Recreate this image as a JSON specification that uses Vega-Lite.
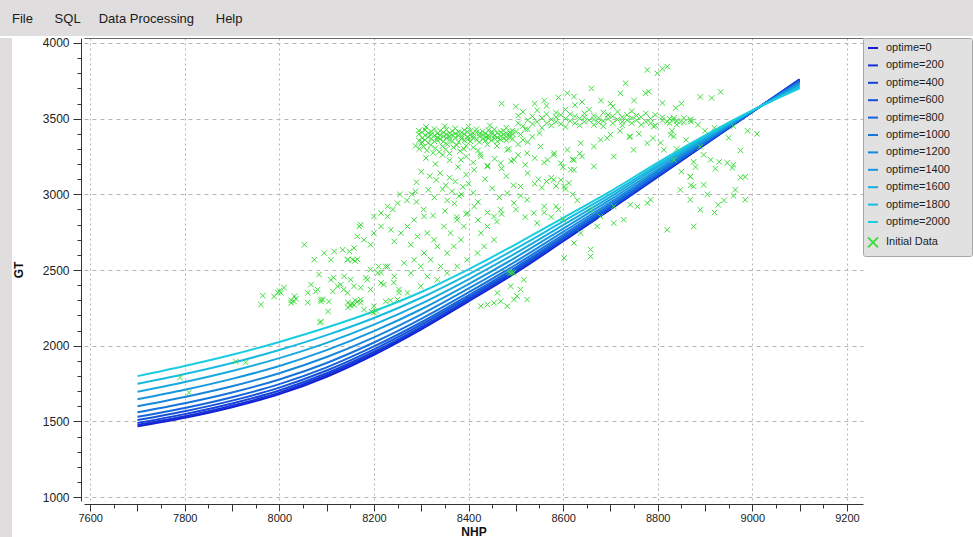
{
"$schema": "https://vega.github.io/schema/vega-lite/v6.json",
"padding": 0,
"background": "white",
"config": {"view": {"stroke": null}, "concat": {"spacing": 0}, "font": "Liberation Sans"},
"spacing": 0,
"resolve": {"legend": {"color": "independent", "shape": "independent"}},
"datasets": {
"curves": [
{"series":"optime=0","NHP":7700,"GT":1467},{"series":"optime=0","NHP":7800,"GT":1524},{"series":"optime=0","NHP":7900,"GT":1594},{"series":"optime=0","NHP":8000,"GT":1680},{"series":"optime=0","NHP":8100,"GT":1795},{"series":"optime=0","NHP":8200,"GT":1940},{"series":"optime=0","NHP":8300,"GT":2108},{"series":"optime=0","NHP":8400,"GT":2293},{"series":"optime=0","NHP":8500,"GT":2482},{"series":"optime=0","NHP":8600,"GT":2690},{"series":"optime=0","NHP":8700,"GT":2900},{"series":"optime=0","NHP":8800,"GT":3115},{"series":"optime=0","NHP":8900,"GT":3330},{"series":"optime=0","NHP":9000,"GT":3545},{"series":"optime=0","NHP":9100,"GT":3760},
{"series":"optime=200","NHP":7700,"GT":1477},{"series":"optime=200","NHP":7800,"GT":1534},{"series":"optime=200","NHP":7900,"GT":1604},{"series":"optime=200","NHP":8000,"GT":1690},{"series":"optime=200","NHP":8100,"GT":1805},{"series":"optime=200","NHP":8200,"GT":1949},{"series":"optime=200","NHP":8300,"GT":2115},{"series":"optime=200","NHP":8400,"GT":2299},{"series":"optime=200","NHP":8500,"GT":2488},{"series":"optime=200","NHP":8600,"GT":2695},{"series":"optime=200","NHP":8700,"GT":2904},{"series":"optime=200","NHP":8800,"GT":3118},{"series":"optime=200","NHP":8900,"GT":3332},{"series":"optime=200","NHP":9000,"GT":3545},{"series":"optime=200","NHP":9100,"GT":3758},
{"series":"optime=400","NHP":7700,"GT":1490},{"series":"optime=400","NHP":7800,"GT":1548},{"series":"optime=400","NHP":7900,"GT":1618},{"series":"optime=400","NHP":8000,"GT":1704},{"series":"optime=400","NHP":8100,"GT":1818},{"series":"optime=400","NHP":8200,"GT":1960},{"series":"optime=400","NHP":8300,"GT":2125},{"series":"optime=400","NHP":8400,"GT":2308},{"series":"optime=400","NHP":8500,"GT":2495},{"series":"optime=400","NHP":8600,"GT":2701},{"series":"optime=400","NHP":8700,"GT":2908},{"series":"optime=400","NHP":8800,"GT":3122},{"series":"optime=400","NHP":8900,"GT":3334},{"series":"optime=400","NHP":9000,"GT":3546},{"series":"optime=400","NHP":9100,"GT":3756},
{"series":"optime=600","NHP":7700,"GT":1509},{"series":"optime=600","NHP":7800,"GT":1567},{"series":"optime=600","NHP":7900,"GT":1637},{"series":"optime=600","NHP":8000,"GT":1723},{"series":"optime=600","NHP":8100,"GT":1836},{"series":"optime=600","NHP":8200,"GT":1976},{"series":"optime=600","NHP":8300,"GT":2139},{"series":"optime=600","NHP":8400,"GT":2320},{"series":"optime=600","NHP":8500,"GT":2506},{"series":"optime=600","NHP":8600,"GT":2709},{"series":"optime=600","NHP":8700,"GT":2915},{"series":"optime=600","NHP":8800,"GT":3127},{"series":"optime=600","NHP":8900,"GT":3338},{"series":"optime=600","NHP":9000,"GT":3546},{"series":"optime=600","NHP":9100,"GT":3752},
{"series":"optime=800","NHP":7700,"GT":1530},{"series":"optime=800","NHP":7800,"GT":1589},{"series":"optime=800","NHP":7900,"GT":1660},{"series":"optime=800","NHP":8000,"GT":1746},{"series":"optime=800","NHP":8100,"GT":1857},{"series":"optime=800","NHP":8200,"GT":1995},{"series":"optime=800","NHP":8300,"GT":2155},{"series":"optime=800","NHP":8400,"GT":2333},{"series":"optime=800","NHP":8500,"GT":2518},{"series":"optime=800","NHP":8600,"GT":2719},{"series":"optime=800","NHP":8700,"GT":2923},{"series":"optime=800","NHP":8800,"GT":3133},{"series":"optime=800","NHP":8900,"GT":3341},{"series":"optime=800","NHP":9000,"GT":3547},{"series":"optime=800","NHP":9100,"GT":3749},
{"series":"optime=1000","NHP":7700,"GT":1560},{"series":"optime=1000","NHP":7800,"GT":1620},{"series":"optime=1000","NHP":7900,"GT":1691},{"series":"optime=1000","NHP":8000,"GT":1777},{"series":"optime=1000","NHP":8100,"GT":1886},{"series":"optime=1000","NHP":8200,"GT":2021},{"series":"optime=1000","NHP":8300,"GT":2177},{"series":"optime=1000","NHP":8400,"GT":2352},{"series":"optime=1000","NHP":8500,"GT":2535},{"series":"optime=1000","NHP":8600,"GT":2733},{"series":"optime=1000","NHP":8700,"GT":2934},{"series":"optime=1000","NHP":8800,"GT":3142},{"series":"optime=1000","NHP":8900,"GT":3347},{"series":"optime=1000","NHP":9000,"GT":3548},{"series":"optime=1000","NHP":9100,"GT":3743},
{"series":"optime=1200","NHP":7700,"GT":1600},{"series":"optime=1200","NHP":7800,"GT":1661},{"series":"optime=1200","NHP":7900,"GT":1732},{"series":"optime=1200","NHP":8000,"GT":1818},{"series":"optime=1200","NHP":8100,"GT":1925},{"series":"optime=1200","NHP":8200,"GT":2055},{"series":"optime=1200","NHP":8300,"GT":2207},{"series":"optime=1200","NHP":8400,"GT":2378},{"series":"optime=1200","NHP":8500,"GT":2557},{"series":"optime=1200","NHP":8600,"GT":2752},{"series":"optime=1200","NHP":8700,"GT":2948},{"series":"optime=1200","NHP":8800,"GT":3153},{"series":"optime=1200","NHP":8900,"GT":3354},{"series":"optime=1200","NHP":9000,"GT":3549},{"series":"optime=1200","NHP":9100,"GT":3736},
{"series":"optime=1400","NHP":7700,"GT":1646},{"series":"optime=1400","NHP":7800,"GT":1709},{"series":"optime=1400","NHP":7900,"GT":1781},{"series":"optime=1400","NHP":8000,"GT":1866},{"series":"optime=1400","NHP":8100,"GT":1971},{"series":"optime=1400","NHP":8200,"GT":2096},{"series":"optime=1400","NHP":8300,"GT":2241},{"series":"optime=1400","NHP":8400,"GT":2407},{"series":"optime=1400","NHP":8500,"GT":2584},{"series":"optime=1400","NHP":8600,"GT":2774},{"series":"optime=1400","NHP":8700,"GT":2965},{"series":"optime=1400","NHP":8800,"GT":3166},{"series":"optime=1400","NHP":8900,"GT":3362},{"series":"optime=1400","NHP":9000,"GT":3550},{"series":"optime=1400","NHP":9100,"GT":3728},
{"series":"optime=1600","NHP":7700,"GT":1696},{"series":"optime=1600","NHP":7800,"GT":1760},{"series":"optime=1600","NHP":7900,"GT":1833},{"series":"optime=1600","NHP":8000,"GT":1918},{"series":"optime=1600","NHP":8100,"GT":2019},{"series":"optime=1600","NHP":8200,"GT":2139},{"series":"optime=1600","NHP":8300,"GT":2278},{"series":"optime=1600","NHP":8400,"GT":2439},{"series":"optime=1600","NHP":8500,"GT":2612},{"series":"optime=1600","NHP":8600,"GT":2797},{"series":"optime=1600","NHP":8700,"GT":2983},{"series":"optime=1600","NHP":8800,"GT":3181},{"series":"optime=1600","NHP":8900,"GT":3371},{"series":"optime=1600","NHP":9000,"GT":3552},{"series":"optime=1600","NHP":9100,"GT":3719},
{"series":"optime=1800","NHP":7700,"GT":1748},{"series":"optime=1800","NHP":7800,"GT":1813},{"series":"optime=1800","NHP":7900,"GT":1886},{"series":"optime=1800","NHP":8000,"GT":1972},{"series":"optime=1800","NHP":8100,"GT":2070},{"series":"optime=1800","NHP":8200,"GT":2183},{"series":"optime=1800","NHP":8300,"GT":2317},{"series":"optime=1800","NHP":8400,"GT":2472},{"series":"optime=1800","NHP":8500,"GT":2641},{"series":"optime=1800","NHP":8600,"GT":2821},{"series":"optime=1800","NHP":8700,"GT":3001},{"series":"optime=1800","NHP":8800,"GT":3195},{"series":"optime=1800","NHP":8900,"GT":3381},{"series":"optime=1800","NHP":9000,"GT":3553},{"series":"optime=1800","NHP":9100,"GT":3709},
{"series":"optime=2000","NHP":7700,"GT":1799},{"series":"optime=2000","NHP":7800,"GT":1866},{"series":"optime=2000","NHP":7900,"GT":1940},{"series":"optime=2000","NHP":8000,"GT":2025},{"series":"optime=2000","NHP":8100,"GT":2120},{"series":"optime=2000","NHP":8200,"GT":2228},{"series":"optime=2000","NHP":8300,"GT":2355},{"series":"optime=2000","NHP":8400,"GT":2505},{"series":"optime=2000","NHP":8500,"GT":2670},{"series":"optime=2000","NHP":8600,"GT":2845},{"series":"optime=2000","NHP":8700,"GT":3020},{"series":"optime=2000","NHP":8800,"GT":3210},{"series":"optime=2000","NHP":8900,"GT":3390},{"series":"optime=2000","NHP":9000,"GT":3555},{"series":"optime=2000","NHP":9100,"GT":3700}
],
"scatter": [
{"NHP":8295,"GT":3355},{"NHP":8295,"GT":3398},{"NHP":8295,"GT":3420},{"NHP":8302,"GT":3372},{"NHP":8302,"GT":3410},{"NHP":8302,"GT":3345},{"NHP":8308,"GT":3390},{"NHP":8308,"GT":3425},{"NHP":8308,"GT":3360},{"NHP":8315,"GT":3340},{"NHP":8315,"GT":3405},{"NHP":8315,"GT":3380},{"NHP":8321,"GT":3415},{"NHP":8321,"GT":3368},{"NHP":8321,"GT":3395},{"NHP":8328,"GT":3350},{"NHP":8328,"GT":3388},{"NHP":8328,"GT":3432},{"NHP":8334,"GT":3402},{"NHP":8334,"GT":3376},{"NHP":8334,"GT":3358},{"NHP":8340,"GT":3420},{"NHP":8340,"GT":3365},{"NHP":8340,"GT":3390},{"NHP":8347,"GT":3348},{"NHP":8347,"GT":3410},{"NHP":8347,"GT":3384},{"NHP":8353,"GT":3395},{"NHP":8353,"GT":3372},{"NHP":8353,"GT":3428},{"NHP":8360,"GT":3360},{"NHP":8360,"GT":3405},{"NHP":8360,"GT":3383},{"NHP":8366,"GT":3418},{"NHP":8366,"GT":3352},{"NHP":8366,"GT":3392},{"NHP":8372,"GT":3375},{"NHP":8372,"GT":3400},{"NHP":8372,"GT":3436},{"NHP":8379,"GT":3345},{"NHP":8379,"GT":3390},{"NHP":8379,"GT":3412},{"NHP":8385,"GT":3408},{"NHP":8385,"GT":3368},{"NHP":8385,"GT":3384},{"NHP":8391,"GT":3356},{"NHP":8391,"GT":3398},{"NHP":8391,"GT":3425},{"NHP":8398,"GT":3380},{"NHP":8398,"GT":3414},{"NHP":8398,"GT":3362},{"NHP":8404,"GT":3395},{"NHP":8404,"GT":3350},{"NHP":8404,"GT":3420},{"NHP":8410,"GT":3372},{"NHP":8410,"GT":3405},{"NHP":8410,"GT":3388},{"NHP":8417,"GT":3410},{"NHP":8417,"GT":3360},{"NHP":8417,"GT":3430},{"NHP":8423,"GT":3385},{"NHP":8423,"GT":3345},{"NHP":8423,"GT":3402},{"NHP":8430,"GT":3366},{"NHP":8430,"GT":3415},{"NHP":8430,"GT":3392},{"NHP":8436,"GT":3400},{"NHP":8436,"GT":3378},{"NHP":8436,"GT":3356},{"NHP":8442,"GT":3425},{"NHP":8442,"GT":3388},{"NHP":8442,"GT":3370},{"NHP":8449,"GT":3358},{"NHP":8449,"GT":3398},{"NHP":8449,"GT":3412},{"NHP":8455,"GT":3390},{"NHP":8455,"GT":3368},{"NHP":8455,"GT":3430},{"NHP":8461,"GT":3375},{"NHP":8461,"GT":3405},{"NHP":8461,"GT":3350},{"NHP":8468,"GT":3412},{"NHP":8468,"GT":3385},{"NHP":8468,"GT":3362},{"NHP":8474,"GT":3395},{"NHP":8474,"GT":3370},{"NHP":8474,"GT":3420},{"NHP":8480,"GT":3380},{"NHP":8480,"GT":3402},{"NHP":8480,"GT":3358},{"NHP":8487,"GT":3410},{"NHP":8487,"GT":3375},{"NHP":8487,"GT":3392},{"NHP":8493,"GT":3366},{"NHP":8493,"GT":3398},{"NHP":8493,"GT":3420},
{"NHP":8288,"GT":3320},{"NHP":8296,"GT":3300},{"NHP":8305,"GT":3315},{"NHP":8312,"GT":3290},{"NHP":8320,"GT":3325},{"NHP":8330,"GT":3305},{"NHP":8338,"GT":3280},{"NHP":8345,"GT":3318},{"NHP":8352,"GT":3296},{"NHP":8360,"GT":3270},{"NHP":8368,"GT":3310},{"NHP":8375,"GT":3325},{"NHP":8382,"GT":3285},{"NHP":8390,"GT":3300},{"NHP":8300,"GT":3335},{"NHP":8325,"GT":3275},{"NHP":8355,"GT":3330},{"NHP":8395,"GT":3320},{"NHP":8410,"GT":3310},{"NHP":8420,"GT":3290},{"NHP":8440,"GT":3330},{"NHP":8460,"GT":3320},{"NHP":8485,"GT":3300},{"NHP":8505,"GT":3330},{"NHP":8515,"GT":3360},{"NHP":8525,"GT":3345},
{"NHP":8310,"GT":3445},{"NHP":8350,"GT":3450},{"NHP":8400,"GT":3448},{"NHP":8445,"GT":3455},{"NHP":8480,"GT":3440},{"NHP":8500,"GT":3415},{"NHP":8510,"GT":3395},{"NHP":8520,"GT":3430},{"NHP":8535,"GT":3380},{"NHP":8550,"GT":3405},
{"NHP":8505,"GT":3470},{"NHP":8505,"GT":3520},{"NHP":8515,"GT":3450},{"NHP":8515,"GT":3545},{"NHP":8525,"GT":3490},{"NHP":8525,"GT":3430},{"NHP":8535,"GT":3515},{"NHP":8535,"GT":3465},{"NHP":8545,"GT":3480},{"NHP":8545,"GT":3555},{"NHP":8555,"GT":3440},{"NHP":8555,"GT":3505},{"NHP":8565,"GT":3530},{"NHP":8565,"GT":3470},{"NHP":8565,"GT":3585},{"NHP":8575,"GT":3495},{"NHP":8575,"GT":3455},{"NHP":8585,"GT":3540},{"NHP":8585,"GT":3480},{"NHP":8585,"GT":3510},{"NHP":8595,"GT":3465},{"NHP":8595,"GT":3525},{"NHP":8605,"GT":3500},{"NHP":8605,"GT":3560},{"NHP":8605,"GT":3445},{"NHP":8615,"GT":3485},{"NHP":8615,"GT":3530},{"NHP":8625,"GT":3515},{"NHP":8625,"GT":3470},{"NHP":8625,"GT":3590},{"NHP":8635,"GT":3455},{"NHP":8635,"GT":3500},{"NHP":8645,"GT":3535},{"NHP":8645,"GT":3480},{"NHP":8645,"GT":3510},{"NHP":8655,"GT":3490},{"NHP":8655,"GT":3560},{"NHP":8665,"GT":3460},{"NHP":8665,"GT":3520},{"NHP":8665,"GT":3495},{"NHP":8675,"GT":3505},{"NHP":8675,"GT":3475},{"NHP":8685,"GT":3540},{"NHP":8685,"GT":3485},{"NHP":8685,"GT":3450},{"NHP":8695,"GT":3500},{"NHP":8695,"GT":3525},{"NHP":8705,"GT":3470},{"NHP":8705,"GT":3515},{"NHP":8705,"GT":3580},{"NHP":8715,"GT":3495},{"NHP":8715,"GT":3545},{"NHP":8725,"GT":3480},{"NHP":8725,"GT":3510},{"NHP":8725,"GT":3455},{"NHP":8735,"GT":3525},{"NHP":8735,"GT":3490},{"NHP":8745,"GT":3470},{"NHP":8745,"GT":3505},{"NHP":8745,"GT":3550},{"NHP":8755,"GT":3490},{"NHP":8755,"GT":3520},{"NHP":8765,"GT":3510},{"NHP":8765,"GT":3460},{"NHP":8775,"GT":3480},{"NHP":8775,"GT":3535},{"NHP":8785,"GT":3500},{"NHP":8785,"GT":3470},{"NHP":8795,"GT":3525},{"NHP":8795,"GT":3455},{"NHP":8810,"GT":3490},{"NHP":8810,"GT":3510},{"NHP":8825,"GT":3470},{"NHP":8825,"GT":3500},{"NHP":8840,"GT":3485},{"NHP":8840,"GT":3460},{"NHP":8855,"GT":3505},{"NHP":8855,"GT":3475},{"NHP":8870,"GT":3480},{"NHP":8870,"GT":3495},{"NHP":8885,"GT":3460},
{"NHP":8778,"GT":3822},{"NHP":8820,"GT":3844},{"NHP":8799,"GT":3800},{"NHP":8732,"GT":3734},{"NHP":8721,"GT":3668},{"NHP":8774,"GT":3668},{"NHP":8781,"GT":3679},{"NHP":8609,"GT":3668},{"NHP":8623,"GT":3646},{"NHP":8810,"GT":3830},{"NHP":8933,"GT":3677},{"NHP":8914,"GT":3637},{"NHP":8890,"GT":3644},{"NHP":8810,"GT":3604},{"NHP":8838,"GT":3571},{"NHP":8680,"GT":3620},{"NHP":8700,"GT":3600},{"NHP":8560,"GT":3620},{"NHP":8590,"GT":3640},{"NHP":8640,"GT":3610},{"NHP":8750,"GT":3620},{"NHP":8850,"GT":3600},{"NHP":8660,"GT":3700},{"NHP":8500,"GT":3580},{"NHP":8470,"GT":3600},{"NHP":8540,"GT":3600},
{"NHP":8820,"GT":3480},{"NHP":8834,"GT":3505},{"NHP":8848,"GT":3479},{"NHP":8869,"GT":3492},{"NHP":8827,"GT":3393},{"NHP":8806,"GT":3340},{"NHP":8890,"GT":3314},{"NHP":8897,"GT":3261},{"NHP":8876,"GT":3215},{"NHP":8912,"GT":3228},{"NHP":8930,"GT":3215},{"NHP":8947,"GT":3208},{"NHP":8922,"GT":3169},{"NHP":8958,"GT":3175},{"NHP":8869,"GT":3116},{"NHP":8985,"GT":3116},{"NHP":8960,"GT":3195},{"NHP":8897,"GT":3063},{"NHP":8964,"GT":3030},{"NHP":8890,"GT":2898},{"NHP":8928,"GT":2931},{"NHP":8985,"GT":2964},{"NHP":8975,"GT":3110},{"NHP":8950,"GT":3373},{"NHP":8960,"GT":2990},{"NHP":8940,"GT":2960},{"NHP":8905,"GT":3000},{"NHP":8920,"GT":2880},{"NHP":8870,"GT":3060},{"NHP":8850,"GT":3150},{"NHP":8880,"GT":3180},{"NHP":8840,"GT":3300},{"NHP":8860,"GT":3360},{"NHP":8900,"GT":3420},{"NHP":8920,"GT":3440},{"NHP":8990,"GT":3420},{"NHP":9010,"GT":3400},{"NHP":8960,"GT":3450},{"NHP":8975,"GT":3290},{"NHP":8830,"GT":3420},{"NHP":8790,"GT":3370},{"NHP":8760,"GT":3400},{"NHP":8740,"GT":3380},{"NHP":8720,"GT":3420},{"NHP":8700,"GT":3395},
{"NHP":8623,"GT":3228},{"NHP":8640,"GT":3250},{"NHP":8665,"GT":3316},{"NHP":8693,"GT":3371},{"NHP":8707,"GT":3250},{"NHP":8749,"GT":3294},{"NHP":8778,"GT":3338},{"NHP":8813,"GT":3294},{"NHP":8834,"GT":3228},{"NHP":8742,"GT":3382},{"NHP":8665,"GT":3184},{"NHP":8623,"GT":3162},{"NHP":8679,"GT":3360},{"NHP":8876,"GT":3052},{"NHP":8848,"GT":3030},{"NHP":8869,"GT":3118},{"NHP":8834,"GT":3382},{"NHP":8792,"GT":3448},{"NHP":8834,"GT":3492},
{"NHP":8310,"GT":3240},{"NHP":8330,"GT":3200},{"NHP":8345,"GT":3260},{"NHP":8360,"GT":3225},{"NHP":8378,"GT":3180},{"NHP":8395,"GT":3250},{"NHP":8410,"GT":3210},{"NHP":8425,"GT":3265},{"NHP":8440,"GT":3190},{"NHP":8455,"GT":3235},{"NHP":8470,"GT":3170},{"NHP":8490,"GT":3220},{"NHP":8505,"GT":3260},{"NHP":8520,"GT":3195},{"NHP":8540,"GT":3240},{"NHP":8560,"GT":3210},{"NHP":8580,"GT":3260},{"NHP":8600,"GT":3180},{"NHP":8620,"GT":3230},{"NHP":8635,"GT":3270},
{"NHP":8300,"GT":3150},{"NHP":8318,"GT":3120},{"NHP":8332,"GT":3095},{"NHP":8340,"GT":3140},{"NHP":8352,"GT":3060},{"NHP":8360,"GT":3110},{"NHP":8365,"GT":3020},{"NHP":8372,"GT":3085},{"NHP":8380,"GT":2990},{"NHP":8388,"GT":3050},{"NHP":8395,"GT":3130},{"NHP":8345,"GT":3035},{"NHP":8328,"GT":2980},{"NHP":8355,"GT":2960},{"NHP":8370,"GT":2940},{"NHP":8385,"GT":3000},{"NHP":8400,"GT":3070},{"NHP":8410,"GT":3010},{"NHP":8420,"GT":2950},{"NHP":8435,"GT":3100},{"NHP":8450,"GT":3040},{"NHP":8465,"GT":2980},{"NHP":8480,"GT":3120},{"NHP":8495,"GT":3060},{"NHP":8510,"GT":2990},{"NHP":8525,"GT":3140},{"NHP":8540,"GT":3070},{"NHP":8548,"GT":3100},{"NHP":8555,"GT":3045},{"NHP":8565,"GT":3085},{"NHP":8575,"GT":3110},{"NHP":8585,"GT":3055},{"NHP":8595,"GT":3095},{"NHP":8605,"GT":3035},{"NHP":8612,"GT":3075},{"NHP":8560,"GT":2880},{"NHP":8575,"GT":2850},{"NHP":8590,"GT":2900},{"NHP":8600,"GT":2835},{"NHP":8585,"GT":2920},{"NHP":8545,"GT":2810},{"NHP":8620,"GT":3000},{"NHP":8630,"GT":2960},{"NHP":8500,"GT":2900},{"NHP":8470,"GT":2870},{"NHP":8440,"GT":2880},{"NHP":8460,"GT":2820},{"NHP":8520,"GT":2850},{"NHP":8420,"GT":2830},{"NHP":8395,"GT":2870},{"NHP":8375,"GT":2850},{"NHP":8350,"GT":2890},{"NHP":8325,"GT":2860},{"NHP":8305,"GT":2900},{"NHP":8315,"GT":3030},{"NHP":8290,"GT":3080},{"NHP":8280,"GT":3000},{"NHP":8290,"GT":2950},{"NHP":8288,"GT":3019},{"NHP":8306,"GT":2854},{"NHP":8270,"GT":2960},{"NHP":8255,"GT":3000},{"NHP":8240,"GT":2900},
{"NHP":7965,"GT":2331},{"NHP":7989,"GT":2325},{"NHP":7997,"GT":2351},{"NHP":8003,"GT":2350},{"NHP":8000,"GT":2362},{"NHP":8010,"GT":2384},{"NHP":8025,"GT":2300},{"NHP":8035,"GT":2310},{"NHP":7961,"GT":2272},{"NHP":8031,"GT":2292},{"NHP":8060,"GT":2285},{"NHP":8088,"GT":2292},{"NHP":8105,"GT":2292},{"NHP":8145,"GT":2252},{"NHP":8158,"GT":2270},{"NHP":8172,"GT":2285},{"NHP":8200,"GT":2219},{"NHP":8067,"GT":2404},{"NHP":8077,"GT":2358},{"NHP":8084,"GT":2470},{"NHP":8092,"GT":2305},{"NHP":8103,"GT":2226},{"NHP":8088,"GT":2160},{"NHP":8086,"GT":2153},{"NHP":8115,"GT":2450},{"NHP":8130,"GT":2404},{"NHP":8113,"GT":2358},{"NHP":8136,"GT":2371},{"NHP":8151,"GT":2437},{"NHP":8145,"GT":2285},{"NHP":8155,"GT":2275},{"NHP":8165,"GT":2290},{"NHP":8150,"GT":2265},{"NHP":8160,"GT":2300},{"NHP":8195,"GT":2225},{"NHP":8205,"GT":2230},{"NHP":8210,"GT":2523},{"NHP":8225,"GT":2523},{"NHP":8145,"GT":2569},{"NHP":8160,"GT":2560},{"NHP":8165,"GT":2570},{"NHP":8183,"GT":2450},{"NHP":8172,"GT":2384},{"NHP":8221,"GT":2404},{"NHP":8242,"GT":2417},{"NHP":8225,"GT":2292},{"NHP":8235,"GT":2300},{"NHP":8253,"GT":2351},{"NHP":8215,"GT":2483},{"NHP":8193,"GT":2503},
{"NHP":8053,"GT":2667},{"NHP":8074,"GT":2568},{"NHP":8095,"GT":2612},{"NHP":8109,"GT":2568},{"NHP":8116,"GT":2623},{"NHP":8134,"GT":2634},{"NHP":8148,"GT":2623},{"NHP":8158,"GT":2645},{"NHP":8144,"GT":2568},{"NHP":8155,"GT":2568},{"NHP":8165,"GT":2722},{"NHP":8172,"GT":2799},{"NHP":8179,"GT":2700},{"NHP":8193,"GT":2667},{"NHP":8200,"GT":2744},{"NHP":8215,"GT":2788},{"NHP":8229,"GT":2854},{"NHP":8236,"GT":2766},{"NHP":8243,"GT":2689},{"NHP":8257,"GT":2744},{"NHP":8271,"GT":2788},{"NHP":8285,"GT":2832},{"NHP":8278,"GT":2667},{"NHP":8292,"GT":2722},{"NHP":8215,"GT":2876},{"NHP":8250,"GT":2942},{"NHP":8200,"GT":2854},{"NHP":8169,"GT":2788},{"NHP":8229,"GT":2920},{"NHP":8032,"GT":2327},{"NHP":8025,"GT":2283},{"NHP":8060,"GT":2349},{"NHP":8081,"GT":2371},{"NHP":8088,"GT":2305},{"NHP":8109,"GT":2436},{"NHP":8123,"GT":2393},{"NHP":8137,"GT":2458},{"NHP":8144,"GT":2349},{"NHP":8158,"GT":2393},{"NHP":8172,"GT":2305},{"NHP":8186,"GT":2436},{"NHP":8193,"GT":2371},{"NHP":8208,"GT":2480},{"NHP":8215,"GT":2415},{"NHP":8229,"GT":2524},{"NHP":8243,"GT":2458},{"NHP":8253,"GT":2371},{"NHP":8264,"GT":2546},{"NHP":8278,"GT":2480},{"NHP":8285,"GT":2568},{"NHP":8299,"GT":2524},{"NHP":8306,"GT":2612},{"NHP":8320,"GT":2568},{"NHP":8334,"GT":2656},{"NHP":8341,"GT":2524},{"NHP":8355,"GT":2612},{"NHP":8369,"GT":2656},{"NHP":8384,"GT":2700},{"NHP":8327,"GT":2700},{"NHP":8313,"GT":2744},{"NHP":8348,"GT":2788},{"NHP":8362,"GT":2744},{"NHP":8376,"GT":2832},{"NHP":8390,"GT":2788},{"NHP":8398,"GT":2876},{"NHP":8179,"GT":2239},{"NHP":8200,"GT":2261},{"NHP":8151,"GT":2272},{"NHP":8250,"GT":2305},{"NHP":8271,"GT":2349},{"NHP":8299,"GT":2393},{"NHP":8313,"GT":2458},{"NHP":8334,"GT":2436},{"NHP":8355,"GT":2480},{"NHP":8376,"GT":2524},{"NHP":8397,"GT":2568},{"NHP":8419,"GT":2612},{"NHP":8433,"GT":2656},{"NHP":8454,"GT":2700},{"NHP":8426,"GT":2744},{"NHP":8440,"GT":2788},{"NHP":8412,"GT":2920},{"NHP":8454,"GT":2854},{"NHP":8468,"GT":2898},{"NHP":8496,"GT":2942},{"NHP":8482,"GT":3008},{"NHP":8510,"GT":3052},{"NHP":8524,"GT":2964},{"NHP":8538,"GT":2876},{"NHP":8560,"GT":2920},{"NHP":8580,"GT":3096},{"NHP":8602,"GT":3052},{"NHP":8616,"GT":3162},{"NHP":8595,"GT":3206},{"NHP":8567,"GT":3228},{"NHP":8581,"GT":3272},{"NHP":8609,"GT":3294},{"NHP":8637,"GT":3338},{"NHP":8552,"GT":3316},{"NHP":8524,"GT":3272},{"NHP":8496,"GT":3228},{"NHP":8468,"GT":3206},{"NHP":8440,"GT":3184},{"NHP":8412,"GT":3162},{"NHP":8384,"GT":3228},{"NHP":8426,"GT":3250},{"NHP":8482,"GT":3294},
{"NHP":8658,"GT":2898},{"NHP":8679,"GT":2854},{"NHP":8707,"GT":2920},{"NHP":8742,"GT":2931},{"NHP":8778,"GT":2942},{"NHP":8820,"GT":2766},{"NHP":8707,"GT":2810},{"NHP":8728,"GT":2832},{"NHP":8757,"GT":2920},{"NHP":8785,"GT":2964},{"NHP":8876,"GT":2788},{"NHP":8869,"GT":2964},{"NHP":8602,"GT":2580},{"NHP":8658,"GT":2635},{"NHP":8658,"GT":2590},{"NHP":8637,"GT":2744},{"NHP":8672,"GT":2788},{"NHP":8623,"GT":2678},
{"NHP":8440,"GT":2272},{"NHP":8454,"GT":2283},{"NHP":8468,"GT":2294},{"NHP":8496,"GT":2305},{"NHP":8524,"GT":2305},{"NHP":8489,"GT":2393},{"NHP":8503,"GT":2327},{"NHP":8426,"GT":2261},{"NHP":8510,"GT":2371},{"NHP":8482,"GT":2261},{"NHP":8461,"GT":2349},{"NHP":8517,"GT":2436},
{"NHP":8488,"GT":2478},{"NHP":8492,"GT":2485},{"NHP":8486,"GT":2490},{"NHP":8495,"GT":2482},
{"NHP":7790,"GT":1790},{"NHP":7809,"GT":1691},{"NHP":7908,"GT":1896},{"NHP":7929,"GT":1889}
]
},
"vconcat": [
{
"width": 973, "height": 36,
"view": {"fill": "#dfdddd", "stroke": null},
"title": {"text": "File\u00a0\u00a0\u00a0\u00a0\u00a0\u00a0SQL\u00a0\u00a0\u00a0\u00a0\u00a0Data Processing\u00a0\u00a0\u00a0\u00a0\u00a0\u00a0Help", "anchor": "start", "frame": "group", "orient": "top", "offset": -26, "dx": 12, "font": "Liberation Sans", "fontSize": 13, "fontWeight": "normal", "color": "#1a1a1a"},
"data": {"values": []},
"mark": "point",
"encoding": {}
},
{
"spacing": 0,
"resolve": {"legend": {"color": "independent", "shape": "independent"}},
"hconcat": [
{"width": 12, "height": 499, "view": {"fill": "#dfdddd", "stroke": null}, "data": {"values": []}, "mark": "point", "encoding": {}},
{
"width": 779, "height": 463,
"resolve": {"axis": {"x": "independent"}},
"layer": [
{
"data": {"name": "curves"},
"mark": {"type": "line", "strokeWidth": 2, "interpolate": "monotone"},
"encoding": {
"x": {"field": "NHP", "type": "quantitative", "scale": {"domain": [7587, 9234], "nice": false, "zero": false},
"axis": {"title": "NHP", "tickCount": 200, "values": [7600,7650,7700,7750,7800,7850,7900,7950,8000,8050,8100,8150,8200,8250,8300,8350,8400,8450,8500,8550,8600,8650,8700,8750,8800,8850,8900,8950,9000,9050,9100,9150,9200], "format": "d", "labelExpr": "datum.value % 200 === 0 ? datum.label : ''", "offset": 3, "tickSize": {"condition": {"test": "datum.value % 100 === 0", "value": 7}, "value": 4}, "tickColor": "#333333", "domainColor": "#333333", "labelPadding": 1, "labelFont": "Liberation Sans", "labelFontSize": 11, "labelColor": "#222222", "labelOverlap": false, "titleFont": "Liberation Sans", "titleFontSize": 12, "titleFontWeight": "bold", "titleColor": "#111111", "titlePadding": 3, "grid": true, "gridColor": "#b4b4b4", "gridDash": [2, 3], "gridOpacity": {"condition": {"test": "datum.value % 200 === 0", "value": 1}, "value": 0}}},
"y": {"field": "GT", "type": "quantitative", "scale": {"domain": [974, 4033], "nice": false, "zero": false},
"axis": {"title": "GT", "tickCount": 200, "values": [1000,1100,1200,1300,1400,1500,1600,1700,1800,1900,2000,2100,2200,2300,2400,2500,2600,2700,2800,2900,3000,3100,3200,3300,3400,3500,3600,3700,3800,3900,4000], "format": "d", "labelExpr": "datum.value % 500 === 0 ? datum.label : ''", "offset": 3, "tickSize": {"condition": {"test": "datum.value % 500 === 0", "value": 8}, "value": 4}, "tickColor": "#333333", "domainColor": "#333333", "labelPadding": 4, "labelFont": "Liberation Sans", "labelFontSize": 12, "labelColor": "#222222", "labelOverlap": false, "titleFont": "Liberation Sans", "titleFontSize": 12, "titleFontWeight": "bold", "titleColor": "#111111", "titlePadding": 17, "grid": true, "gridColor": "#b4b4b4", "gridDash": [4, 4], "gridOpacity": {"condition": {"test": "datum.value % 500 === 0", "value": 1}, "value": 0}}},
"color": {"field": "series", "type": "nominal",
"scale": {"domain": ["optime=0","optime=200","optime=400","optime=600","optime=800","optime=1000","optime=1200","optime=1400","optime=1600","optime=1800","optime=2000","Initial Data"],
"range": ["#141ed7","#142fd8","#1541d9","#1552da","#1664db","#1675dc","#1787dd","#1798de","#18aadf","#18bbe0","#19cde1","#3cdc3c"]},
"legend": {"title": null, "orient": "right", "offset": 0, "fillColor": "#e2e1e1", "strokeColor": "#a6a6a6", "padding": 4, "cornerRadius": 2, "rowPadding": 6.4, "labelFont": "Liberation Sans", "labelFontSize": 11, "labelColor": "#1e1e1e", "labelOffset": 7, "labelExpr": "datum.label + '\u00a0\u00a0\u00a0\u2800'", "symbolSize": 100, "symbolStrokeWidth": 2,
"encoding": {"symbols": {"update": {"size": {"signal": "datum.value === 'Initial Data' ? 30 : 100"}, "strokeWidth": {"signal": "datum.value === 'Initial Data' ? 1 : 2"}}}}}}
}
},
{
"data": {"name": "scatter"},
"mark": {"type": "point", "filled": false, "size": 30, "strokeWidth": 1, "opacity": 1},
"encoding": {
"x": {"field": "NHP", "type": "quantitative", "axis": {"orient": "top", "labels": false, "ticks": false, "grid": false, "title": null, "domain": true, "domainColor": "#6a6a6a", "offset": 0}},
"y": {"field": "GT", "type": "quantitative"},
"color": {"datum": "Initial Data"},
"shape": {"datum": "Initial Data",
"scale": {"domain": ["optime=0","optime=200","optime=400","optime=600","optime=800","optime=1000","optime=1200","optime=1400","optime=1600","optime=1800","optime=2000","Initial Data"],
"range": ["stroke","stroke","stroke","stroke","stroke","stroke","stroke","stroke","stroke","stroke","stroke","M-1,-1L1,1M1,-1L-1,1"]},
"legend": {"title": null, "orient": "right", "offset": 0, "fillColor": "#e2e1e1", "strokeColor": "#a6a6a6", "padding": 4, "cornerRadius": 2, "rowPadding": 6.4, "labelFont": "Liberation Sans", "labelFontSize": 11, "labelColor": "#1e1e1e", "labelOffset": 7, "labelExpr": "datum.label + '\u00a0\u00a0\u00a0\u2800'", "symbolSize": 100, "symbolStrokeWidth": 2,
"encoding": {"symbols": {"update": {"size": {"signal": "datum.value === 'Initial Data' ? 30 : 100"}, "strokeWidth": {"signal": "datum.value === 'Initial Data' ? 1 : 2"}}}}}}
}
}
]
}
]
}
]
}
